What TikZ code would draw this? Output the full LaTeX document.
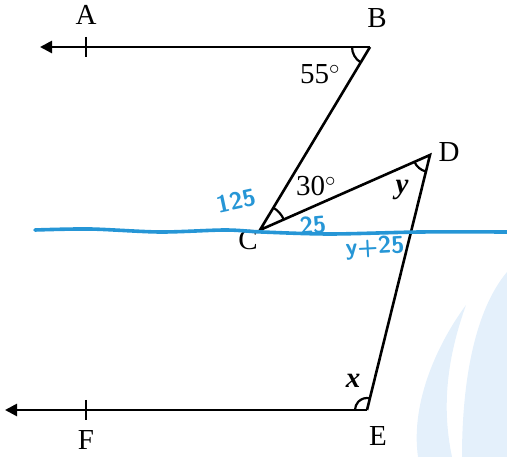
\documentclass[tikz,border=0pt]{standalone}
\usepackage{fontspec}
\setmainfont{Liberation Serif}
\usetikzlibrary{angles, arrows.meta, calc, positioning}
\definecolor{penblue}{RGB}{38,150,214}
\definecolor{markblue}{RGB}{228,240,251}

\begin{document}
\begin{tikzpicture}[x=1pt, y=-1pt, line width=2.6pt,
    ray/.style={-{Triangle[length=12pt,width=12pt]}},
    lbl/.style={font=\fontsize{29}{30}\selectfont, inner sep=0pt},
    pen/.style={color=penblue, font=\fontsize{24}{24}\sffamily\bfseries, inner sep=0pt},
    mark arc/.style={draw, line width=2.2pt}]
    \useasboundingbox (0,0) rectangle (507,457);

    % faint watermark in the corner
    \fill[markblue] (418,457) .. controls (410,400) and (440,340) .. (466,305)
        .. controls (450,350) and (440,400) .. (452,457) -- cycle;
    \fill[markblue] (462,457) .. controls (462,380) and (475,310) .. (507,272)
        -- (507,457) -- cycle;

    % vertices of the figure
    \coordinate (B) at (370,47);
    \coordinate (C) at (260,230);
    \coordinate (D) at (430,155);
    \coordinate (E) at (367,410);
    \coordinate (A) at (86,47);
    \coordinate (F) at (86,410);
    \coordinate (Aend) at (40,47);
    \coordinate (Fend) at (5,410);

    % the two parallel rays
    \draw[ray] (B) -- (Aend);
    \draw[ray] (E) -- (Fend);
    \draw ($(A)+(0,-10)$) -- ($(A)+(0,10)$);
    \draw ($(F)+(0,-10)$) -- ($(F)+(0,10)$);

    % the zig-zag B-C-D-E
    \draw (B) -- (C) -- (D) -- (E);

    % angle marks
    \pic[mark arc, angle radius=18pt] {angle = A--B--C};
    \pic[mark arc, angle radius=26pt] {angle = D--C--B};
    \pic[mark arc, angle radius=17pt] {angle = C--D--E};
    \pic[mark arc, angle radius=12pt] {angle = D--E--F};

    % point labels
    \node[lbl] (lA) at (86,15) {A};
    \node[lbl] (lB) at (377,18) {B};
    \node[lbl] (lC) at (248,240) {C};
    \node[lbl] (lD) at (449,152) {D};
    \node[lbl] (lE) at (378,436) {E};
    \node[lbl] (lF) at (86,440) {F};

    % angle labels
    \node[lbl] (a55) at (320,74) {55$^{\circ}$};
    \node[lbl] (a30) at (316,186) {30$^{\circ}$};
    \node[lbl] (ay) at (402,190) {\textbf{\textit{y}}};
    \node[lbl] (ax) at (353,381) {\textbf{\textit{x}}};

    % hand-drawn line through C and the pen notes
    \draw[penblue, line width=3.6pt, line cap=round] plot[smooth] coordinates
        {(35,230) (90,229) (160,232) (225,230) (262,232) (330,234) (420,232) (507,232)};
    \node[pen, rotate=12] (n125) at (236,201) {125};
    \node[pen, rotate=5] (n25) at (313,225) {25};
    \node[pen, rotate=3] (ny25) at (375,248) {y+25};
\end{tikzpicture}
\end{document}
